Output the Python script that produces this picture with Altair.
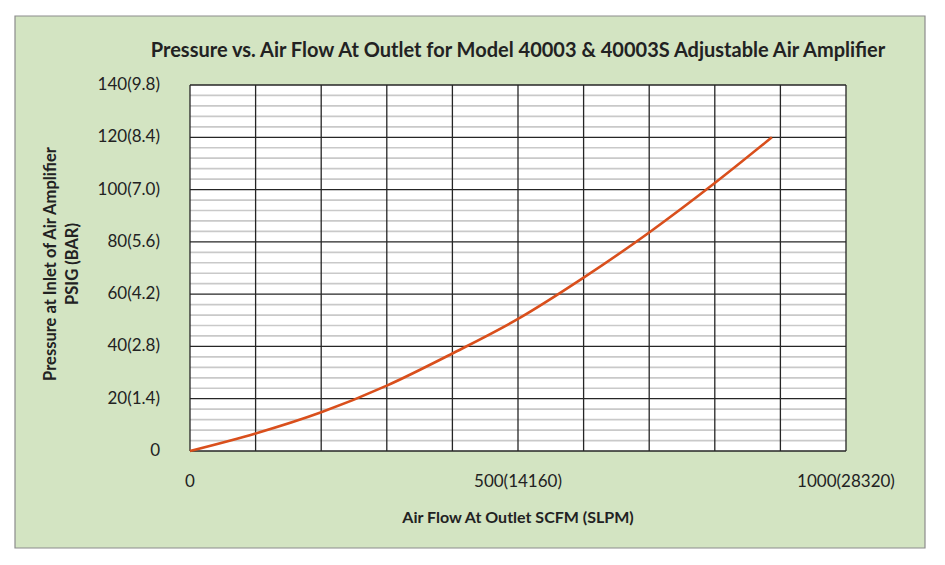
import altair as alt
import pandas as pd

# ---- data ----
flow_scfm = [0, 100, 200, 300, 400, 500, 600, 700, 800, 887]
pressure_psig = [0, 6.7, 14.8, 25.0, 37.3, 50.5, 66.3, 83.6, 102.5, 120.0]

x_tick_values = [0, 500, 1000]
x_tick_labels = ["0", "500(14160)", "1000(28320)"]
y_tick_values = [0, 20, 40, 60, 80, 100, 120, 140]
y_tick_labels = ["0", "20(1.4)", "40(2.8)", "60(4.2)", "80(5.6)", "100(7.0)", "120(8.4)", "140(9.8)"]

x_grid = list(range(0, 1001, 100))
y_grid_major = y_tick_values
y_grid_minor = [v for v in range(0, 141, 4) if v % 20 != 0]

title_text = "Pressure vs. Air Flow At Outlet for Model 40003 & 40003S Adjustable Air Amplifier"
x_title = "Air Flow At Outlet SCFM (SLPM)"
y_title = ["Pressure at Inlet of Air Amplifier", "PSIG (BAR)"]

# ---- styling ----
W, H = 656, 366
GREEN = "#d3e4c2"
TXT = "#222222"
FONT = "Lato"

xscale = alt.Scale(domain=[0, 1000], nice=False, zero=True)
yscale = alt.Scale(domain=[0, 140], nice=False, zero=True)

df = pd.DataFrame({"flow": flow_scfm, "pressure": pressure_psig})
one = alt.Data(values=[{"a": 1}])

panel = alt.Chart(one).mark_rect(
    fill=GREEN, stroke="#8c8c8c", strokeWidth=1.2
).encode(
    x=alt.value(-175), x2=alt.value(735), y=alt.value(-69), y2=alt.value(463)
)

plot_bg = alt.Chart(one).mark_rect(fill="white").encode(
    x=alt.value(0), x2=alt.value(W), y=alt.value(0), y2=alt.value(H)
)

title = alt.Chart(one).mark_text(
    font=FONT, fontSize=20, fontWeight="bold", color=TXT,
    align="center", baseline="alphabetic",
).encode(x=alt.value(W / 2), y=alt.value(-28), text=alt.value(title_text))

minor = alt.Chart(pd.DataFrame({"v": y_grid_minor})).mark_rule(
    color="#c9c9c9", strokeWidth=1.7
).encode(y=alt.Y("v:Q", scale=yscale, axis=None))

major_h = alt.Chart(pd.DataFrame({"v": y_grid_major})).mark_rule(
    color="#262626", strokeWidth=1.3
).encode(y=alt.Y("v:Q", scale=yscale, axis=None))

major_v = alt.Chart(pd.DataFrame({"v": x_grid})).mark_rule(
    color="#262626", strokeWidth=1.3
).encode(x=alt.X("v:Q", scale=xscale, axis=None))

line = alt.Chart(df).mark_line(
    color="#d94f1c", strokeWidth=2.6, interpolate="monotone"
).encode(
    x=alt.X("flow:Q", scale=xscale, axis=None),
    y=alt.Y("pressure:Q", scale=yscale, axis=None),
)

# tick labels (real text, positioned through the scales)
x_labels = alt.Chart(pd.DataFrame({"v": x_tick_values, "lab": x_tick_labels})).mark_text(
    font=FONT, fontSize=17, color=TXT, align="center", baseline="middle"
).encode(
    x=alt.X("v:Q", scale=xscale, axis=None), y=alt.value(H + 31), text="lab:N"
)

y_labels = alt.Chart(pd.DataFrame({"v": y_tick_values, "lab": y_tick_labels})).mark_text(
    font=FONT, fontSize=17, color=TXT, align="right", baseline="middle"
).encode(
    y=alt.Y("v:Q", scale=yscale, axis=None), x=alt.value(-30), text="lab:N"
)

x_title_mark = alt.Chart(one).mark_text(
    font=FONT, fontSize=16, fontWeight="bold", color=TXT, align="center", baseline="middle"
).encode(x=alt.value(W / 2), y=alt.value(H + 67), text=alt.value(x_title))

y_title_1 = alt.Chart(one).mark_text(
    font=FONT, fontSize=16.5, fontWeight="bold", color=TXT, align="center",
    baseline="middle", angle=270,
).encode(x=alt.value(-139), y=alt.value(179), text=alt.value(y_title[0]))

y_title_2 = alt.Chart(one).mark_text(
    font=FONT, fontSize=16.5, fontWeight="bold", color=TXT, align="center",
    baseline="middle", angle=270,
).encode(x=alt.value(-117), y=alt.value(179), text=alt.value(y_title[1]))

chart = alt.layer(
    panel, plot_bg, title, minor, major_h, major_v, line,
    x_labels, y_labels, x_title_mark, y_title_1, y_title_2,
).properties(
    width=W,
    height=H,
    autosize=alt.AutoSizeParams(type="none"),
    padding={"left": 190, "top": 85, "right": 99, "bottom": 114},
    background="white",
).configure_view(stroke="#262626", strokeWidth=1.3)

chart.save("out.html", embed_options={"renderer": "svg", "actions": False})
